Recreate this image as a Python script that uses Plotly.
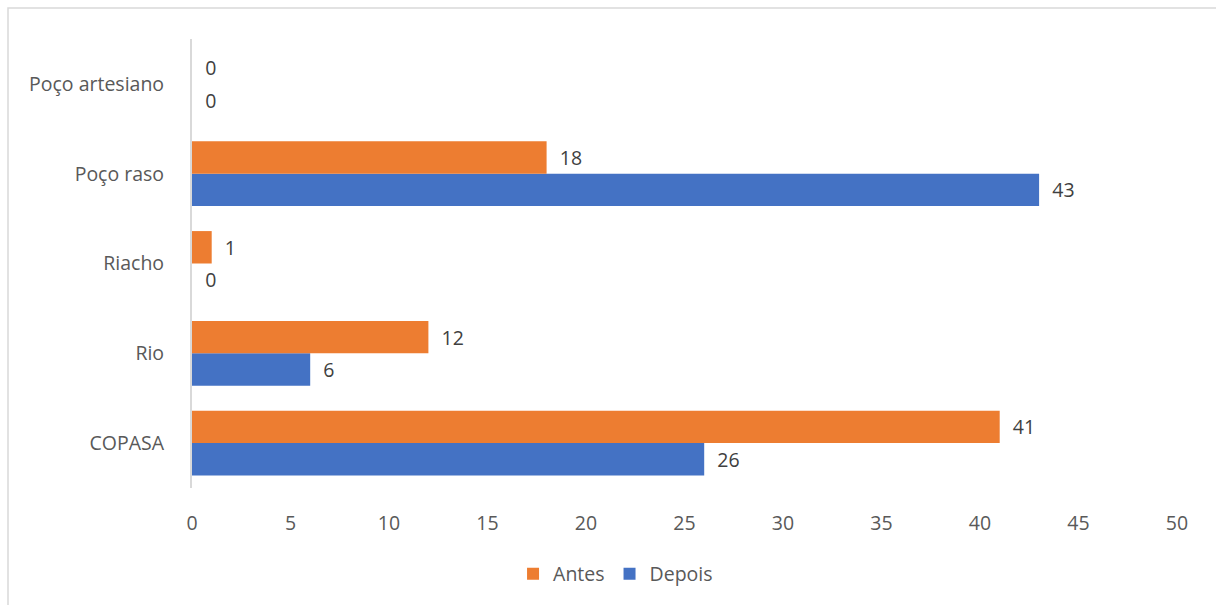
import plotly.graph_objects as go

# Water source categories (bottom to top) and counts before/after
categories = ["COPASA", "Rio", "Riacho", "Poço raso", "Poço artesiano"]
antes = [41, 12, 1, 18, 0]
depois = [26, 6, 0, 43, 0]
x_ticks = [0, 5, 10, 15, 20, 25, 30, 35, 40, 45, 50]

ORANGE = "#ED7D31"
BLUE = "#4472C4"
FONT = "'Open Sans', Lato, sans-serif"
FS = 19.5

W, H = 1216, 605
ML, MR, MT, MB = 192, 39, 39, 117
pw, ph = W - ML - MR, H - MT - MB

# padding between bar end and its value label
PAD = "\u00a0\u00a0"

fig = go.Figure()
fig.add_trace(go.Bar(
    y=categories, x=depois, name="Depois", orientation="h",
    marker=dict(color=BLUE, line=dict(width=0)),
    text=depois, texttemplate=PAD + "%{x}", textposition="outside",
    textfont=dict(color="#404040", size=FS, family=FONT),
    cliponaxis=False, legendrank=2,
))
fig.add_trace(go.Bar(
    y=categories, x=antes, name="Antes", orientation="h",
    marker=dict(color=ORANGE, line=dict(width=0)),
    text=antes, texttemplate=PAD + "%{x}", textposition="outside",
    textfont=dict(color="#404040", size=FS, family=FONT),
    cliponaxis=False, legendrank=1,
))

fig.update_layout(
    width=W, height=H,
    margin=dict(l=ML, r=MR, t=MT, b=MB),
    paper_bgcolor="white", plot_bgcolor="white",
    barmode="group", bargap=0.278, bargroupgap=0,
    font=dict(family=FONT, color="#595959", size=FS),
    showlegend=True,
    legend=dict(orientation="h", x=0.43, xanchor="center", y=-86 / ph, yanchor="middle",
                font=dict(size=FS, color="#595959"), traceorder="normal",
                itemwidth=30, bgcolor="rgba(0,0,0,0)"),
    xaxis=dict(range=[0, 50], tickvals=x_ticks, showgrid=False, zeroline=False,
               showline=False, ticks="", ticklabelstandoff=21,
               tickfont=dict(size=FS, color="#595959")),
    yaxis=dict(showgrid=False, zeroline=False, showline=True, linecolor="#d9d9d9",
               linewidth=2, ticks="", ticklabelstandoff=22,
               tickfont=dict(size=FS, color="#595959")),
)

# Light chart-area border (top and left edges are inside the view)
fig.add_shape(type="rect", xref="paper", yref="paper",
              x0=-(ML - 8) / pw, x1=1 + (MR + 20) / pw,
              y0=-(MB + 20) / ph, y1=1 + (MT - 8) / ph,
              line=dict(color="#d9d9d9", width=1.5), fillcolor="rgba(0,0,0,0)", layer="below")

fig.write_html("out.html")
